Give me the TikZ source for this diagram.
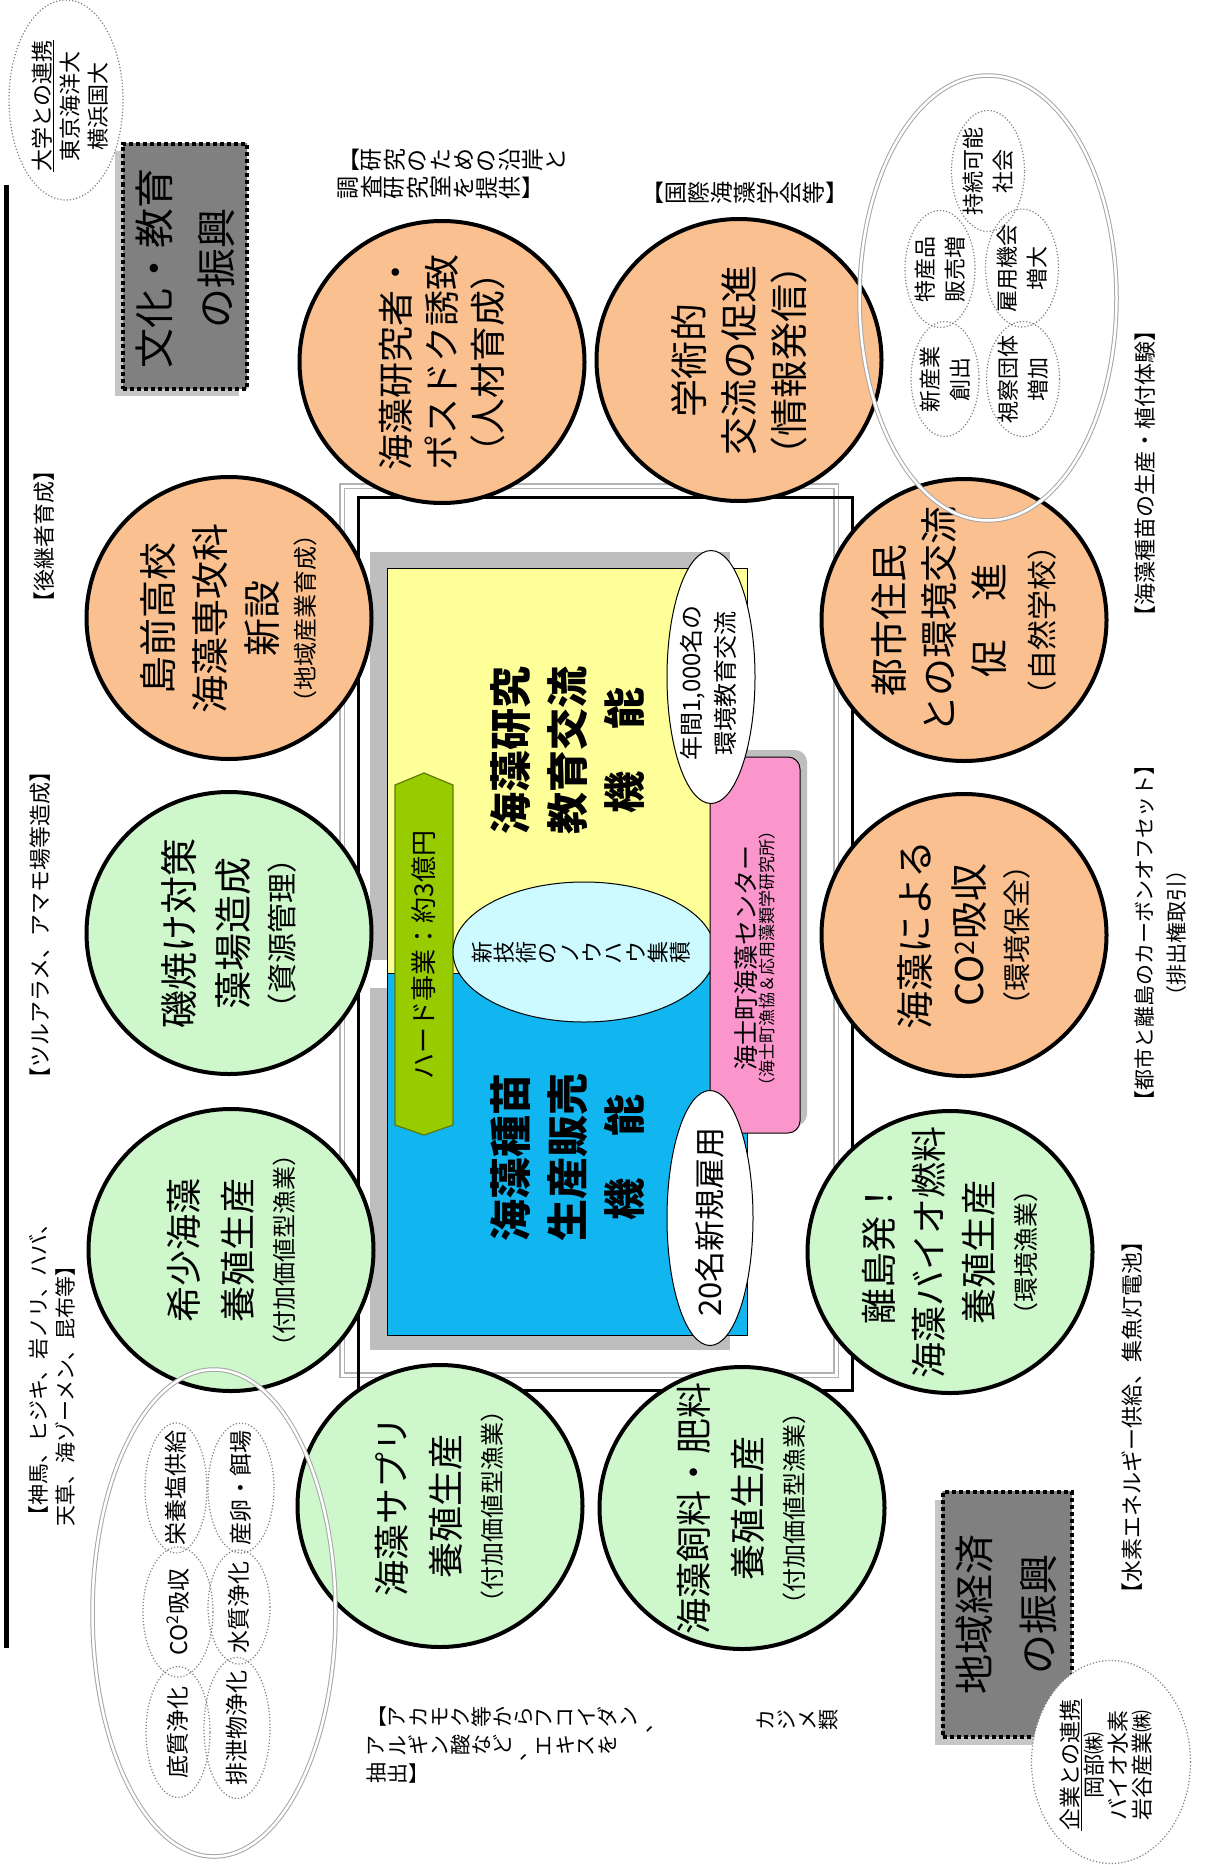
\documentclass[tikz,border=0pt]{standalone}
\usepackage{fontspec}
\setmainfont{Noto Sans CJK JP}
\usepackage{graphicx}
\usetikzlibrary{shapes.geometric}
\definecolor{orangeC}{RGB}{250,192,144}
\definecolor{greenC}{RGB}{206,247,204}
\definecolor{yellowC}{RGB}{255,255,153}
\definecolor{blueC}{RGB}{17,182,240}
\definecolor{cyanC}{RGB}{205,250,255}
\definecolor{pinkC}{RGB}{250,150,204}
\definecolor{tagC}{RGB}{153,204,0}
\definecolor{shadowC}{RGB}{190,190,190}
\newcommand\fsz[2]{\fontsize{#1pt}{#2pt}\selectfont}
\makeatletter
\newcommand\tatechar[1]{\makebox[1em][c]{\rotatebox[origin=c]{90}{#1}}}
\newcommand\tate[1]{\tate@i#1\@nil}
\def\tate@i#1{\ifx\@nil#1\else\tatechar{#1}\expandafter\tate@i\fi}
\makeatother
\begin{document}
\begin{tikzpicture}[x=1pt,y=-1pt,
  circ/.style={ellipse, draw=black, line width=4pt, minimum width=285pt, minimum height=282pt, inner sep=0pt},
  orangecirc/.style={circ, fill=orangeC},
  greencirc/.style={circ, fill=greenC},
  rtext/.style={rotate=90, align=center, inner sep=0pt},
  dotell/.style={ellipse, draw=gray, dotted, line width=1.2pt, inner sep=0pt},
  bigell/.style={ellipse, draw=gray!70, double=white, line width=1pt, double distance=2.5pt, inner sep=0pt},
  note/.style={inner sep=0pt, font=\fsz{22}{28}},
  gbox/.style={draw=black, line width=4pt, dash pattern=on 4pt off 3pt, left color=black!50, middle color=white, right color=black!50, inner sep=0pt},
]
\path[use as bounding box] (0,0) rectangle (1208,1865);
\fill[white] (0,0) rectangle (1208,1865);

% left rule
\coordinate (lt) at (6,185);
\coordinate (lb) at (6,1648);
\draw[line width=5pt] (lt) -- (lb);

% central frame
\draw[gray!60, double=white, line width=1.2pt, double distance=3pt] (342,486) rectangle (836,1375);
\draw[black, line width=3pt] (358,497) rectangle (852,1390);

% yellow and blue function boxes
\fill[shadowC] (370,552) rectangle (730,960);
\draw[fill=yellowC, line width=1pt] (387,568) rectangle (747,973);
\fill[shadowC] (370,988) rectangle (730,1350);
\draw[fill=blueC, line width=1pt] (387,973) rectangle (747,1335);

% green tag
\draw[fill=tagC, draw=tagC!60!black, line width=1.2pt] (395,785) -- (424,773) -- (453,785) -- (453,1125) -- (424,1135) -- (395,1125) -- cycle;
\node[rtext, font=\fsz{26}{30}] (tag) at (424,955) {ハード事業：約3億円};

% cyan ellipse
\node[ellipse, draw, fill=cyanC, line width=1pt, minimum width=262pt, minimum height=140pt, inner sep=0pt] (cy) at (584,952) {};
\node[inner sep=0pt, font=\fsz{22}{24}] (cyt) at (581,953) {\tate{新技術のノウハウ集積}};

\node[rtext, font=\bfseries\fsz{42}{57}] (yt) at (568,750) {海藻研究\\教育交流\\機　能};
\node[rtext, font=\bfseries\fsz{42}{57}] (bt) at (568,1157) {海藻種苗\\生産販売\\機　能};

% pink box
\fill[shadowC, rounded corners=12pt] (717,750) rectangle (807,1126);
\draw[fill=pinkC, line width=1pt, rounded corners=12pt] (710,757) rectangle (800,1133);
\node[rtext] (pt) at (755,958) {\fsz{25}{30}海士町海藻センター\\\fsz{17}{30}（海士町漁協＆応用藻類学研究所）};

% white ellipses
\node[ellipse, draw, fill=white, line width=1pt, minimum width=88pt, minimum height=253pt, inner sep=0pt] (e1) at (711,677) {};
\node[rtext, font=\fsz{24}{34}] (e1t) at (708,683) {年間1,000名の\\環境教育交流};
\node[ellipse, draw, fill=white, line width=1pt, minimum width=86pt, minimum height=255pt, inner sep=0pt] (e2) at (710,1218) {};
\node[rtext, font=\fsz{31}{36}] (e2t) at (710,1222) {20名新規雇用};

% circles
\node[orangecirc] (c1) at (442,362) {};
\node[rtext, font=\fsz{36}{46}] at (c1) {海藻研究者・\\ポスドク誘致\\（人材育成）};
\node[orangecirc] (c2) at (739,360) {};
\node[rtext, font=\fsz{38}{50}] at (c2) {学術的\\交流の促進\\（情報発信）};
\node[orangecirc] (c3) at (964,620) {};
\node[rtext, font=\fsz{38}{50}] at (c3) {都市住民\\との環境交流\\促　進\\{\fsz{30}{36}（自然学校）}};
\node[orangecirc] (c4) at (964,935) {};
\node[rtext, font=\fsz{38}{54}] at (c4) {海藻による\\CO\textsuperscript{2}吸収\\[-10pt]{\fsz{28}{34}（環境保全）}};
\node[greencirc] (c5) at (950,1252) {};
\node[rtext, font=\fsz{36}{50}] at (c5) {離島発！\\海藻バイオ燃料\\養殖生産\\[-7pt]{\fsz{25}{30}（環境漁業）}};
\node[greencirc] (c6) at (742,1508) {};
\node[rtext, font=\fsz{36}{54}] at (c6) {海藻飼料・肥料\\養殖生産\\[-12pt]{\fsz{24}{30}（付加価値型漁業）}};
\node[greencirc] (c7) at (440,1506) {};
\node[rtext, font=\fsz{36}{54}] at (c7) {海藻サプリ\\養殖生産\\[-12pt]{\fsz{24}{30}（付加価値型漁業）}};
\node[greencirc] (c8) at (231,1250) {};
\node[rtext, font=\fsz{36}{54}] at (c8) {希少海藻\\養殖生産\\[-12pt]{\fsz{24}{30}（付加価値型漁業）}};
\node[greencirc] (c9) at (229,933) {};
\node[rtext, font=\fsz{38}{54}] at (c9) {磯焼け対策\\藻場造成\\[-8pt]{\fsz{30}{36}（資源管理）}};
\node[orangecirc] (c10) at (229,618) {};
\node[rtext, font=\fsz{38}{52}] at (c10) {島前高校\\海藻専攻科\\新設\\[-14pt]{\fsz{24}{30}（地域産業育成）}};

% big ellipses and small dotted ellipses
\node[bigell, minimum width=257pt, minimum height=445pt] (bigR) at (988,298) {};
\node[dotell, minimum width=73pt, minimum height=121pt] (s1) at (988,171) {};
\node[rtext, font=\fsz{22}{30}] at (s1) {持続可能\\社会};
\node[dotell, minimum width=70pt, minimum height=117pt] (s2) at (940,269) {};
\node[rtext, font=\fsz{22}{30}] at (s2) {特産品\\販売増};
\node[dotell, minimum width=73pt, minimum height=118pt] (s3) at (1022,268) {};
\node[rtext, font=\fsz{22}{30}] at (s3) {雇用機会\\増大};
\node[dotell, minimum width=68pt, minimum height=115pt] (s4) at (945,379) {};
\node[rtext, font=\fsz{22}{30}] at (s4) {新産業\\創出};
\node[dotell, minimum width=73pt, minimum height=115pt] (s5) at (1023,379) {};
\node[rtext, font=\fsz{22}{30}] at (s5) {視察団体\\増加};

\node[bigell, minimum width=243pt, minimum height=487pt] (bigL) at (214,1613) {};
\node[dotell, minimum width=62pt, minimum height=130pt] (t1) at (176,1488) {};
\node[rtext, font=\fsz{23}{28}] at (t1) {栄養塩供給};
\node[dotell, minimum width=66pt, minimum height=130pt] (t2) at (241,1488) {};
\node[rtext, font=\fsz{23}{28}] at (t2) {産卵・餌場};
\node[dotell, minimum width=70pt, minimum height=130pt] (t3) at (178,1612) {};
\node[rtext, font=\fsz{23}{28}] at (t3) {CO\textsuperscript{2}吸収};
\node[dotell, minimum width=62pt, minimum height=114pt] (t4) at (239,1607) {};
\node[rtext, font=\fsz{23}{28}] at (t4) {水質浄化};
\node[dotell, minimum width=64pt, minimum height=131pt] (t5) at (178,1732) {};
\node[rtext, font=\fsz{23}{28}] at (t5) {底質浄化};
\node[dotell, minimum width=66pt, minimum height=141pt] (t6) at (237,1728) {};
\node[rtext, font=\fsz{23}{28}] at (t6) {排泄物浄化};

% grey title boxes
\fill[gray!45] (115,151) rectangle (239,396);
\node[gbox, minimum width=124pt, minimum height=245pt] (bx1) at (185,266) {};
\node[rtext, font=\fsz{40}{62}] at (185,268) {文化・教育\\の振興};
\fill[gray!45] (935,1500) rectangle (1064,1745);
\node[gbox, minimum width=129pt, minimum height=245pt] (bx2) at (1007,1614) {};
\node[rtext, font=\fsz{40}{64}] at (1006,1614) {地域経済\\の振興};

% partner ellipses
\node[ellipse, draw=gray, dotted, line width=1.2pt, fill=white, minimum width=114pt, minimum height=200pt, inner sep=0pt] (u) at (66,100) {};
\node[rtext, font=\fsz{22}{28}] at (70,106) {\underline{大学との連携}\\東京海洋大\\横浜国大};
\node[ellipse, draw=gray, dotted, line width=1.2pt, fill=white, minimum width=159pt, minimum height=203pt, inner sep=0pt] (k) at (1111,1762) {};
\node[rtext, font=\fsz{22}{24}] at (1106,1765) {\underline{企業との連携}\\岡部㈱\\バイオ水素\\岩谷産業㈱};

% annotations
\node[note, rotate=90] (n1) at (44,536) {【後継者育成】};
\node[note, rotate=90] (n2) at (40,925) {【ツルアラメ、アマモ場等造成】};
\node[note, rotate=90, align=left, font=\fsz{21}{27}] (n3) at (52,1370) {【神馬、ヒジキ、岩ノリ、ハバ、\\天草、海ゾーメン、昆布等】};
\node[note, rotate=90] (n4) at (1145,473) {【海藻種苗の生産・植付体験】};
\node[note, rotate=90, align=center, font=\fsz{21}{32}] (n5) at (1161,933) {【都市と離島のカーボンオフセット】\\（排出権取引）};
\node[note, rotate=90] (n6) at (1132,1417) {【水素エネルギー供給、集魚灯電池】};
\node[note, align=left, anchor=west, font=\fsz{23}{28}] (n7) at (337,174) {【\tate{研究のための沿岸と}\\\tate{調査研究室を提供}】};
\node[note, font=\fsz{23}{28}] (n8) at (745,193) {【\tate{国際海藻学会等}】};
\node[note, align=left, anchor=west, font=\fsz{21}{23}] (n9) at (366,1745) {【\tate{アカモク等からフコイダン、}\\\tate{アルギン酸など、エキスを}\\\tate{抽出}】};
\node[note, font=\fsz{21}{23}] (n10) at (797,1720) {\tate{カジメ類}};
\end{tikzpicture}
\end{document}
